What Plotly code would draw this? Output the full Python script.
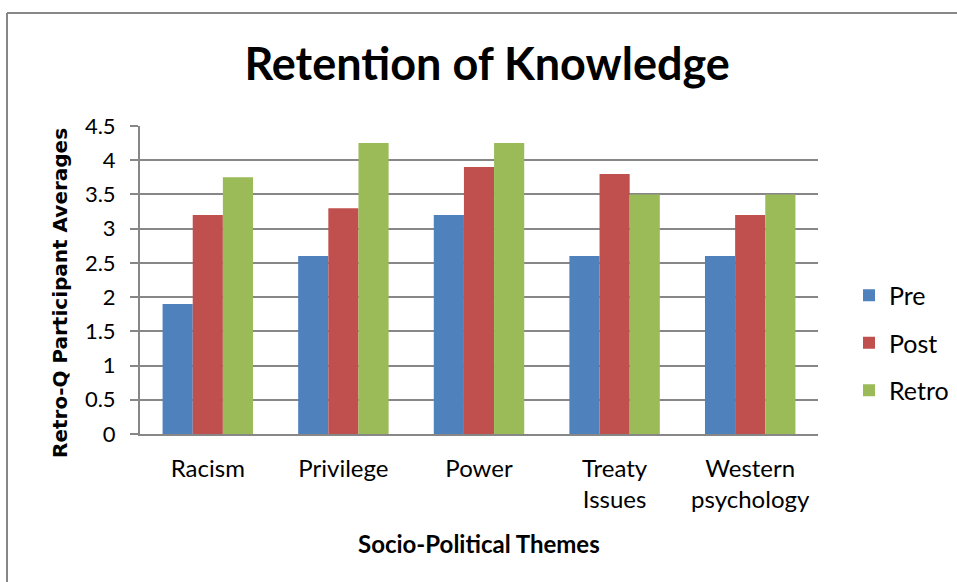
import plotly.graph_objects as go

# Survey averages by theme
themes = ["Racism", "Privilege", "Power", "Treaty<br>Issues", "Western<br>psychology"]
pre = [1.9, 2.6, 3.2, 2.6, 2.6]
post = [3.2, 3.3, 3.9, 3.8, 3.2]
retro = [3.75, 4.25, 4.25, 3.5, 3.5]

series_names = ["Pre", "Post", "Retro"]
series_colors = ["#4F81BD", "#C0504D", "#9BBB59"]
y_ticks = [0, 0.5, 1, 1.5, 2, 2.5, 3, 3.5, 4, 4.5]

W, H = 957, 582
ML, MR, MT, MB = 140, 139, 126, 148
PW, PH = W - ML - MR, H - MT - MB
GRID = "#878787"


def px_x(x):
    return (x - ML) / PW


def px_y(y):
    return (H - MB - y) / PH


fig = go.Figure()
for name, vals, col in zip(series_names, [pre, post, retro], series_colors):
    fig.add_trace(go.Bar(
        x=themes, y=vals, name=name, legendgroup=name,
        marker=dict(color=col, line=dict(width=0)),
    ))

fig.update_layout(
    width=W, height=H,
    margin=dict(l=ML, r=MR, t=MT, b=MB, autoexpand=False),
    paper_bgcolor="white", plot_bgcolor="white",
    barmode="group", bargap=0.333, bargroupgap=0,
    font=dict(family="Lato", color="black"),
    title=dict(
        text="<b>Retention of Knowledge</b>",
        font=dict(family="Lato", size=45, color="black"),
        x=0.509, xanchor="center", xref="container",
        y=1 - 64 / H, yanchor="middle", yref="container",
    ),
    legend=dict(
        x=px_x(849), xanchor="left", y=px_y(343), yanchor="middle",
        font=dict(family="Lato", size=25),
        tracegroupgap=12, traceorder="grouped", itemwidth=30,
        bgcolor="rgba(0,0,0,0)",
    ),
    showlegend=True,
)

fig.update_yaxes(
    range=[0, 4.5], tickvals=y_ticks, ticktext=[f"{v:g}" for v in y_ticks],
    showgrid=True, gridcolor=GRID, gridwidth=2,
    showline=True, linecolor=GRID, linewidth=2,
    ticks="outside", ticklen=8, tickwidth=2, tickcolor=GRID,
    tickfont=dict(family="Lato", size=22, color="black"),
    ticklabelstandoff=10, zeroline=False,
)
fig.update_xaxes(
    showline=True, linecolor=GRID, linewidth=2,
    ticks="", showgrid=False,
    tickfont=dict(family="Lato", size=24, color="black"),
    ticklabelstandoff=12,
)

# Axis titles
fig.add_annotation(
    text="<b>Socio-Political Themes</b>", xref="paper", yref="paper",
    x=px_x(479), y=px_y(543), xanchor="center", yanchor="middle",
    showarrow=False, font=dict(family="Lato", size=24, color="black"),
)
fig.add_annotation(
    text="<b>Retro-Q Participant Averages</b>", xref="paper", yref="paper",
    x=px_x(60), y=px_y(293), xanchor="center", yanchor="middle", textangle=-90,
    showarrow=False, font=dict(family="DejaVu Sans", size=20, color="black"),
)

# Chart frame (top and left edges)
fig.add_shape(type="line", xref="paper", yref="paper",
              x0=px_x(7), x1=px_x(W + 5), y0=px_y(13), y1=px_y(13),
              line=dict(color=GRID, width=2))
fig.add_shape(type="line", xref="paper", yref="paper",
              x0=px_x(7), x1=px_x(7), y0=px_y(13), y1=px_y(H + 5),
              line=dict(color=GRID, width=2))

fig.write_html("out.html")
